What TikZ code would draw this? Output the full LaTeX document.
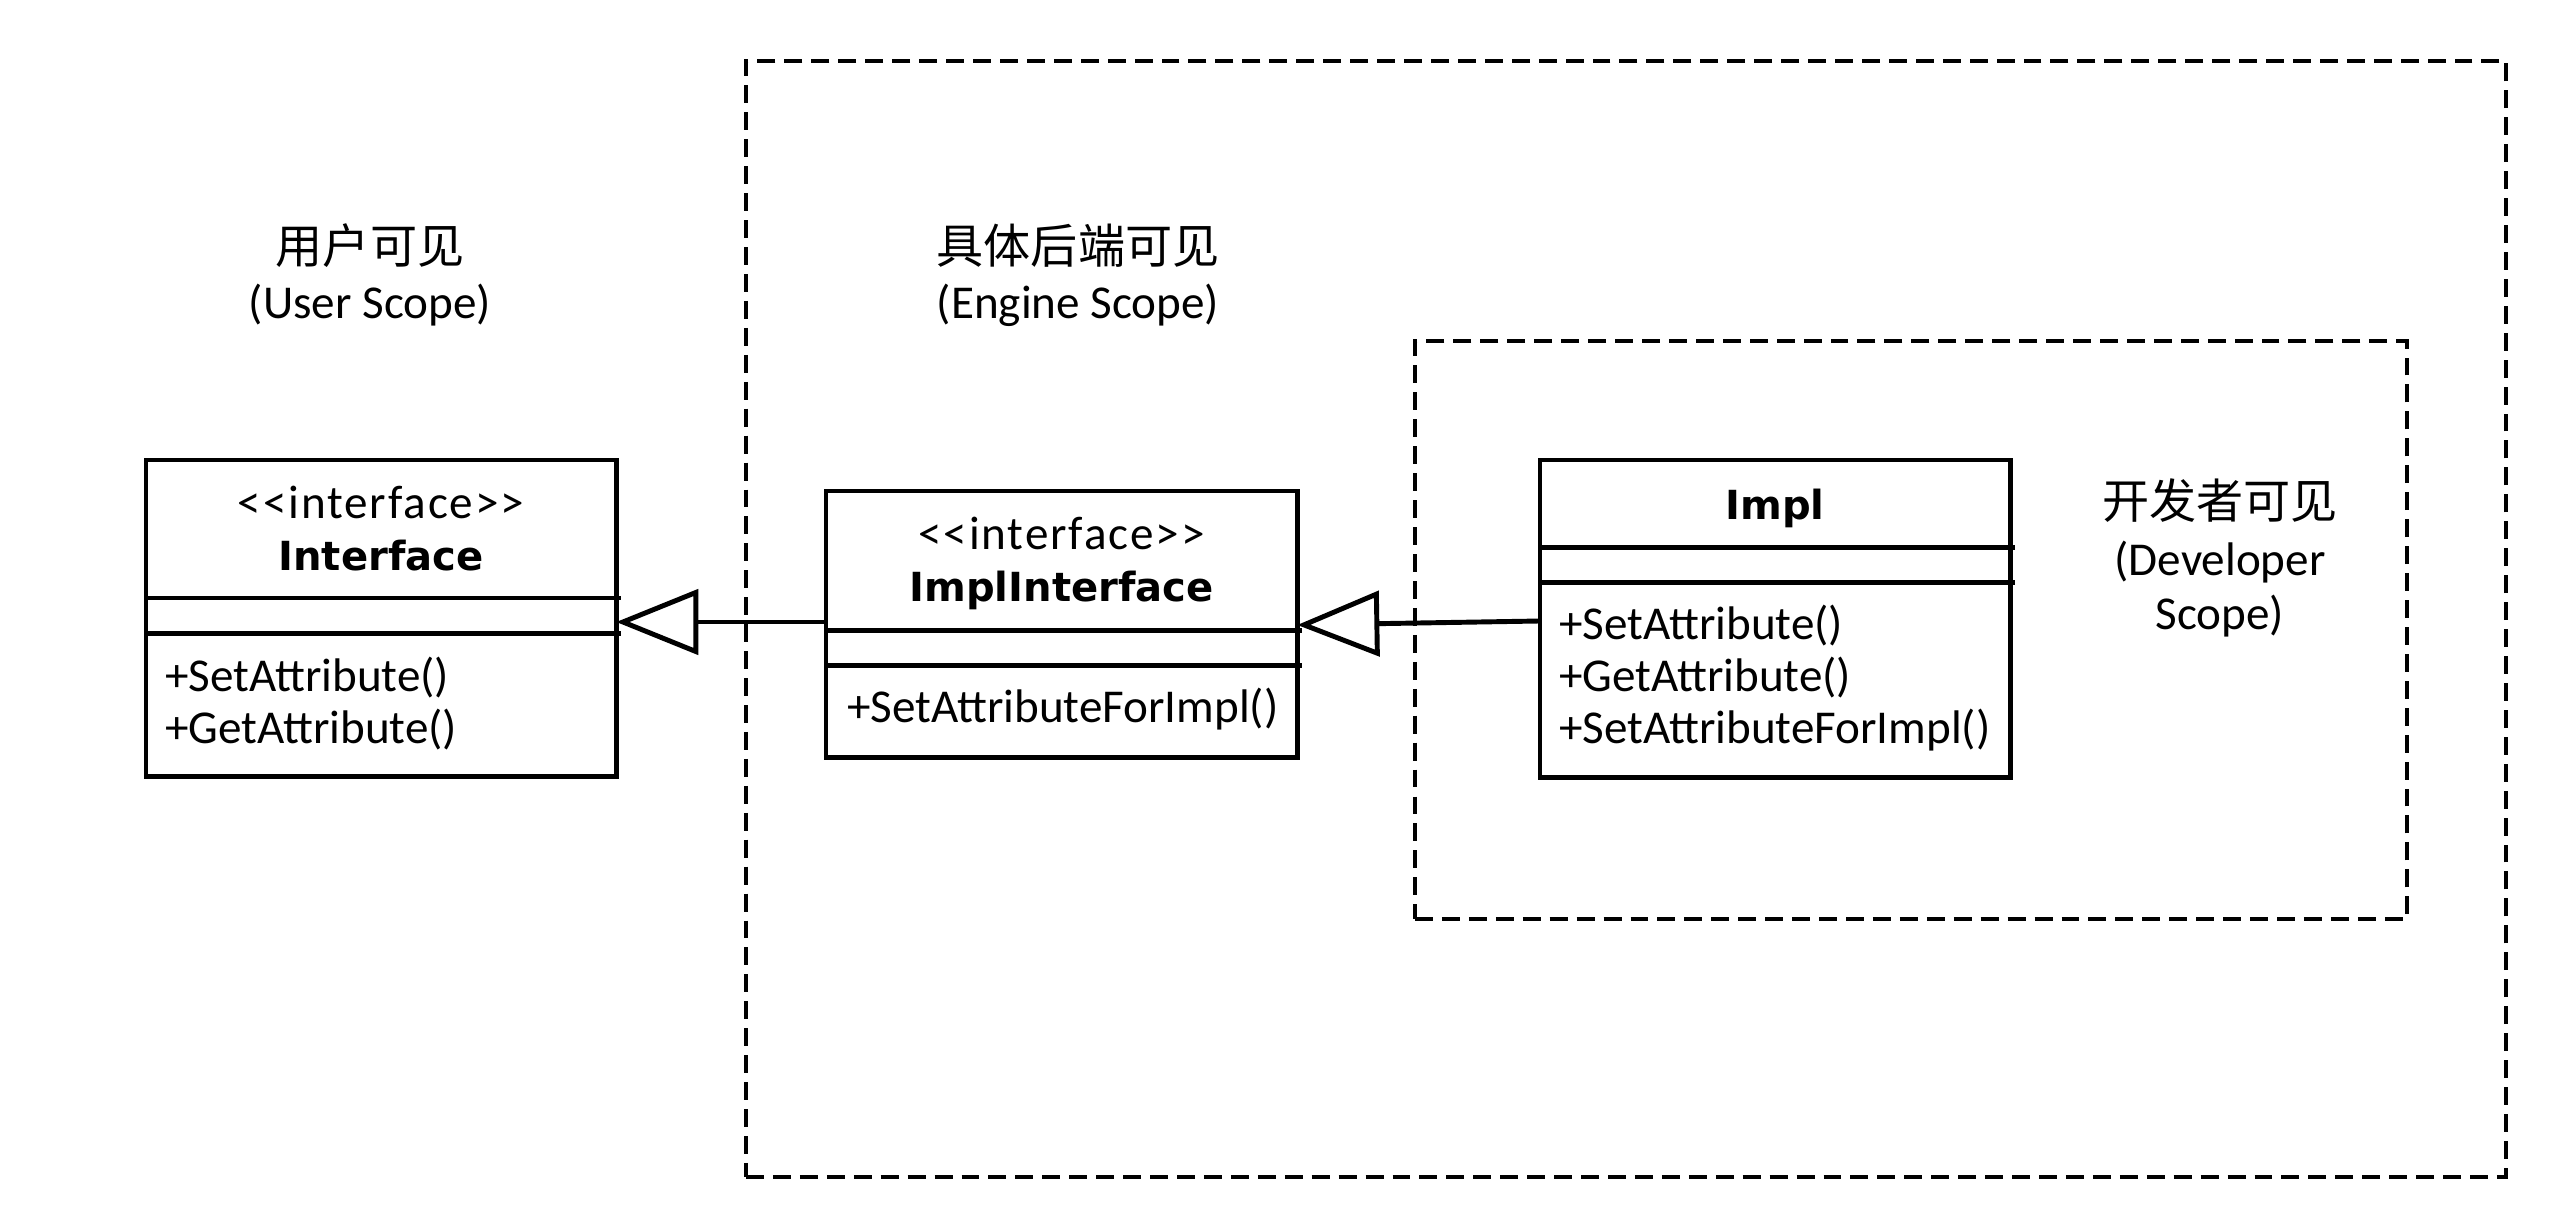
\documentclass[tikz,border=0pt]{standalone}
\usepackage{fontspec}
\setmainfont{Carlito}[Ligatures=TeXOff]
\newfontfamily\stereofont{Carlito}[Ligatures=TeXOff, LetterSpace=4]
\newfontfamily\boldfont{DejaVu Sans}[Ligatures=TeXOff]
\newfontfamily\cjk{Noto Sans CJK SC}
\usetikzlibrary{arrows.meta}
\begin{document}
\begin{tikzpicture}[x=0.01cm, y=-0.01cm,
  clsbox/.style={draw, line width=1.4pt, inner sep=0pt, outer sep=0pt, anchor=north west},
  scopebox/.style={draw, dash pattern=on 5.1pt off 2.56pt, line width=1.1pt, inner sep=0pt, outer sep=0pt, anchor=north west},
  sepline/.style={line width=1.4pt},
  txt/.style={inner sep=0pt, outer sep=0pt, anchor=base, font=\fontsize{13.4}{14.8}\selectfont},
  stxt/.style={txt, font=\fontsize{13.4}{14.8}\selectfont\stereofont},
  btxt/.style={txt, font=\fontsize{11.4}{13}\selectfont\boldfont\bfseries},
  mtxt/.style={txt, anchor=base west},
  ctxt/.style={txt, font=\fontsize{13.4}{14.8}\selectfont\cjk},
  gen/.style={line width=1.4pt, -{Triangle[open, length=0.82cm, width=0.65cm]}}]
\useasboundingbox (0,0) rectangle (2566,1231);
% scopes
\node[scopebox, minimum width=17.59cm, minimum height=11.15cm] (engine) at (746,61) {};
\node[scopebox, minimum width=9.91cm, minimum height=5.78cm] (dev) at (1415,341) {};
% titles
\node[ctxt] (t1) at (370,264) {用户可见};
\node[txt] (t1b) at (370,318.6) {(User Scope)};
\node[ctxt] (t2) at (1078,264) {具体后端可见};
\node[txt] (t2b) at (1078,318.6) {(Engine Scope)};
\node[ctxt] (t3) at (2220,519) {开发者可见};
\node[txt] (t3b) at (2220,575.6) {(Developer};
\node[txt] (t3c) at (2220,629.5) {Scope)};
% Interface
\node[clsbox, minimum width=4.70cm, minimum height=3.16cm] (if) at (146,460) {};
\draw[sepline] (if.west |- 0,598) -- ++(475,0);
\draw[sepline] (if.west |- 0,633.6) -- ++(475,0);
\node[stxt] (if1) at (381,519) {<<interface>>};
\node[btxt] (if2) at (381,570.5) {Interface};
\node[mtxt] (if3) at (165,691.8) {+SetAttribute()};
\node[mtxt] (if4) at (165,743.4) {+GetAttribute()};
% ImplInterface
\node[clsbox, minimum width=4.71cm, minimum height=2.66cm] (ii) at (826,491) {};
\draw[sepline] (ii.west |- 0,630.5) -- ++(476,0);
\draw[sepline] (ii.west |- 0,665.7) -- ++(476,0);
\node[stxt] (ii1) at (1061.5,549.4) {<<interface>>};
\node[btxt] (ii2) at (1061.5,601.8) {ImplInterface};
\node[mtxt] (ii3) at (847,722.4) {+SetAttributeForImpl()};
% Impl
\node[clsbox, minimum width=4.70cm, minimum height=3.17cm] (impl) at (1540,460) {};
\draw[sepline] (impl.west |- 0,547.5) -- ++(475,0);
\draw[sepline] (impl.west |- 0,582.7) -- ++(475,0);
\node[btxt] (im1) at (1775,519.7) {Impl};
\node[mtxt] (im2) at (1559,640) {+SetAttribute()};
\node[mtxt] (im3) at (1559,691.7) {+GetAttribute()};
\node[mtxt] (im4) at (1559,743.5) {+SetAttributeForImpl()};
% generalizations
\draw[gen] (ii.west |- 0,622) -- (if.east |- 0,622);
\draw[gen] (impl.west |- 0,621) -- (ii.east |- 0,625);
\end{tikzpicture}
\end{document}
